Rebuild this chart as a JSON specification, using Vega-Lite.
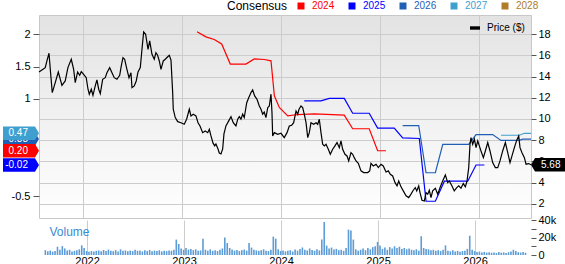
{
"$schema":"https://vega.github.io/schema/vega-lite/v6.json",
"background":"white",
"padding":{"left":2,"top":0,"right":0,"bottom":-1},
"spacing":2,
"bounds":"flush",
"datasets":{
"price":[
{"t":2021.556,"price":14.44},{"t":2021.596,"price":14.69},{"t":2021.619,"price":14.85},{"t":2021.636,"price":15.48},{"t":2021.657,"price":16.21},{"t":2021.670,"price":14.69},{"t":2021.690,"price":12.49},{"t":2021.720,"price":13.43},{"t":2021.751,"price":14.44},{"t":2021.788,"price":13.18},{"t":2021.821,"price":13.59},{"t":2021.848,"price":14.85},{"t":2021.882,"price":15.64},{"t":2021.906,"price":14.69},{"t":2021.922,"price":13.43},{"t":2021.946,"price":14.44},{"t":2021.967,"price":14.13},{"t":2021.983,"price":14.47},{"t":2022.007,"price":14.22},{"t":2022.033,"price":13.90},{"t":2022.051,"price":12.81},{"t":2022.064,"price":12.34},{"t":2022.084,"price":12.81},{"t":2022.101,"price":12.24},{"t":2022.124,"price":13.12},{"t":2022.141,"price":13.69},{"t":2022.159,"price":12.81},{"t":2022.175,"price":12.39},{"t":2022.199,"price":13.75},{"t":2022.225,"price":13.90},{"t":2022.242,"price":14.37},{"t":2022.270,"price":14.85},{"t":2022.293,"price":14.37},{"t":2022.316,"price":13.90},{"t":2022.343,"price":13.75},{"t":2022.371,"price":14.13},{"t":2022.387,"price":15.01},{"t":2022.404,"price":15.79},{"t":2022.421,"price":15.64},{"t":2022.444,"price":14.69},{"t":2022.465,"price":13.90},{"t":2022.485,"price":14.37},{"t":2022.495,"price":12.96},{"t":2022.518,"price":13.12},{"t":2022.538,"price":13.59},{"t":2022.556,"price":14.44},{"t":2022.579,"price":14.85},{"t":2022.596,"price":16.58},{"t":2022.613,"price":18.22},{"t":2022.633,"price":18.00},{"t":2022.657,"price":16.58},{"t":2022.674,"price":17.37},{"t":2022.697,"price":16.11},{"t":2022.720,"price":15.64},{"t":2022.737,"price":16.26},{"t":2022.754,"price":16.02},{"t":2022.771,"price":15.48},{"t":2022.788,"price":14.69},{"t":2022.811,"price":15.48},{"t":2022.831,"price":15.64},{"t":2022.856,"price":15.88},{"t":2022.872,"price":16.02},{"t":2022.889,"price":15.57},{"t":2022.906,"price":12.49},{"t":2022.912,"price":10.92},{"t":2022.932,"price":10.13},{"t":2022.957,"price":9.75},{"t":2022.990,"price":9.65},{"t":2023.023,"price":9.50},{"t":2023.047,"price":9.98},{"t":2023.074,"price":10.92},{"t":2023.091,"price":10.29},{"t":2023.114,"price":10.45},{"t":2023.141,"price":10.29},{"t":2023.162,"price":9.65},{"t":2023.182,"price":9.34},{"t":2023.209,"price":8.71},{"t":2023.235,"price":8.87},{"t":2023.260,"price":8.71},{"t":2023.276,"price":9.03},{"t":2023.293,"price":8.40},{"t":2023.313,"price":7.74},{"t":2023.330,"price":7.46},{"t":2023.343,"price":7.64},{"t":2023.364,"price":7.17},{"t":2023.377,"price":6.79},{"t":2023.394,"price":6.70},{"t":2023.411,"price":7.17},{"t":2023.424,"price":8.59},{"t":2023.444,"price":9.34},{"t":2023.472,"price":9.82},{"t":2023.495,"price":10.22},{"t":2023.518,"price":9.65},{"t":2023.545,"price":9.34},{"t":2023.563,"price":9.98},{"t":2023.579,"price":10.22},{"t":2023.596,"price":9.98},{"t":2023.613,"price":10.45},{"t":2023.629,"price":10.13},{"t":2023.654,"price":11.54},{"t":2023.674,"price":12.01},{"t":2023.697,"price":12.49},{"t":2023.714,"price":12.74},{"t":2023.734,"price":12.18},{"t":2023.758,"price":11.86},{"t":2023.781,"price":11.23},{"t":2023.798,"price":10.92},{"t":2023.815,"price":10.45},{"t":2023.831,"price":10.66},{"t":2023.848,"price":10.13},{"t":2023.866,"price":11.07},{"t":2023.882,"price":11.23},{"t":2023.899,"price":12.34},{"t":2023.909,"price":10.60},{"t":2023.916,"price":8.40},{"t":2023.933,"price":8.71},{"t":2023.967,"price":8.56},{"t":2024.000,"price":8.65},{"t":2024.033,"price":8.24},{"t":2024.061,"price":8.71},{"t":2024.084,"price":9.34},{"t":2024.108,"price":9.41},{"t":2024.128,"price":9.65},{"t":2024.152,"price":10.76},{"t":2024.169,"price":10.45},{"t":2024.182,"price":10.92},{"t":2024.202,"price":11.23},{"t":2024.219,"price":11.07},{"t":2024.235,"price":10.45},{"t":2024.253,"price":9.65},{"t":2024.270,"price":8.24},{"t":2024.286,"price":8.71},{"t":2024.303,"price":9.65},{"t":2024.330,"price":9.50},{"t":2024.354,"price":9.65},{"t":2024.371,"price":9.50},{"t":2024.387,"price":9.98},{"t":2024.404,"price":8.71},{"t":2024.421,"price":7.61},{"t":2024.438,"price":7.46},{"t":2024.455,"price":7.61},{"t":2024.478,"price":7.14},{"t":2024.498,"price":6.67},{"t":2024.522,"price":7.14},{"t":2024.545,"price":7.46},{"t":2024.566,"price":7.77},{"t":2024.589,"price":7.29},{"t":2024.606,"price":7.93},{"t":2024.623,"price":7.14},{"t":2024.646,"price":6.67},{"t":2024.667,"price":6.51},{"t":2024.684,"price":6.04},{"t":2024.707,"price":6.82},{"t":2024.724,"price":6.67},{"t":2024.740,"price":6.35},{"t":2024.758,"price":6.04},{"t":2024.781,"price":5.82},{"t":2024.808,"price":5.10},{"t":2024.835,"price":4.94},{"t":2024.876,"price":4.94},{"t":2024.896,"price":5.10},{"t":2024.909,"price":5.82},{"t":2024.932,"price":5.57},{"t":2024.960,"price":5.73},{"t":2024.983,"price":5.41},{"t":2025.010,"price":5.73},{"t":2025.033,"price":5.57},{"t":2025.061,"price":5.00},{"t":2025.084,"price":5.10},{"t":2025.104,"price":4.78},{"t":2025.128,"price":4.62},{"t":2025.152,"price":3.99},{"t":2025.172,"price":3.68},{"t":2025.189,"price":4.15},{"t":2025.212,"price":3.59},{"t":2025.235,"price":3.21},{"t":2025.263,"price":2.74},{"t":2025.290,"price":2.58},{"t":2025.313,"price":2.90},{"t":2025.336,"price":3.27},{"t":2025.356,"price":3.52},{"t":2025.371,"price":3.21},{"t":2025.391,"price":3.68},{"t":2025.404,"price":3.05},{"t":2025.424,"price":2.33},{"t":2025.448,"price":2.26},{"t":2025.465,"price":3.05},{"t":2025.482,"price":2.90},{"t":2025.498,"price":3.27},{"t":2025.515,"price":2.58},{"t":2025.532,"price":3.21},{"t":2025.559,"price":3.46},{"t":2025.583,"price":2.90},{"t":2025.606,"price":3.52},{"t":2025.633,"price":4.15},{"t":2025.660,"price":4.72},{"t":2025.684,"price":3.99},{"t":2025.700,"price":4.15},{"t":2025.727,"price":3.68},{"t":2025.750,"price":3.21},{"t":2025.775,"price":3.52},{"t":2025.795,"price":3.68},{"t":2025.818,"price":3.46},{"t":2025.841,"price":3.90},{"t":2025.862,"price":3.59},{"t":2025.879,"price":4.15},{"t":2025.896,"price":5.41},{"t":2025.909,"price":7.61},{"t":2025.919,"price":8.24},{"t":2025.936,"price":7.61},{"t":2025.953,"price":8.09},{"t":2025.970,"price":7.29},{"t":2025.987,"price":7.93},{"t":2026.003,"price":7.46},{"t":2026.020,"price":6.98},{"t":2026.044,"price":6.35},{"t":2026.064,"price":6.98},{"t":2026.088,"price":7.77},{"t":2026.111,"price":6.98},{"t":2026.138,"price":5.88},{"t":2026.165,"price":5.41},{"t":2026.189,"price":5.41},{"t":2026.212,"price":6.04},{"t":2026.239,"price":6.98},{"t":2026.266,"price":7.77},{"t":2026.290,"price":6.82},{"t":2026.313,"price":5.88},{"t":2026.333,"price":6.51},{"t":2026.357,"price":7.29},{"t":2026.381,"price":8.00},{"t":2026.401,"price":8.40},{"t":2026.414,"price":7.29},{"t":2026.434,"price":6.82},{"t":2026.458,"price":6.35},{"t":2026.475,"price":5.73},{"t":2026.502,"price":5.79},{"t":2026.525,"price":5.68}
],
"eps":[
{"year":"2024","t":2023.152,"eps":2.04},{"year":"2024","t":2023.242,"eps":1.96},{"year":"2024","t":2023.326,"eps":1.92},{"year":"2024","t":2023.401,"eps":1.85},{"year":"2024","t":2023.488,"eps":1.54},{"year":"2024","t":2023.646,"eps":1.54},{"year":"2024","t":2023.730,"eps":1.62},{"year":"2024","t":2023.831,"eps":1.61},{"year":"2024","t":2023.899,"eps":1.59},{"year":"2024","t":2023.933,"eps":1.05},{"year":"2024","t":2023.983,"eps":0.87},{"year":"2024","t":2024.068,"eps":0.74},{"year":"2024","t":2024.169,"eps":0.76},{"year":"2024","t":2024.336,"eps":0.77},{"year":"2024","t":2024.639,"eps":0.75},{"year":"2024","t":2024.724,"eps":0.54},{"year":"2024","t":2024.891,"eps":0.54},{"year":"2024","t":2024.976,"eps":0.20},{"year":"2024","t":2025.061,"eps":0.20},
{"year":"2025","t":2024.235,"eps":0.97},{"year":"2025","t":2024.404,"eps":0.97},{"year":"2025","t":2024.488,"eps":1.01},{"year":"2025","t":2024.639,"eps":1.01},{"year":"2025","t":2024.724,"eps":0.78},{"year":"2025","t":2024.891,"eps":0.78},{"year":"2025","t":2024.976,"eps":0.55},{"year":"2025","t":2025.144,"eps":0.55},{"year":"2025","t":2025.229,"eps":0.40},{"year":"2025","t":2025.397,"eps":0.39},{"year":"2025","t":2025.465,"eps":-0.58},{"year":"2025","t":2025.559,"eps":-0.58},{"year":"2025","t":2025.650,"eps":-0.27},{"year":"2025","t":2025.886,"eps":-0.27},{"year":"2025","t":2025.970,"eps":-0.02},{"year":"2025","t":2026.054,"eps":-0.02},
{"year":"2026","t":2025.229,"eps":0.59},{"year":"2026","t":2025.391,"eps":0.59},{"year":"2026","t":2025.465,"eps":-0.14},{"year":"2026","t":2025.559,"eps":-0.14},{"year":"2026","t":2025.634,"eps":0.30},{"year":"2026","t":2025.896,"eps":0.30},{"year":"2026","t":2025.970,"eps":0.45},{"year":"2026","t":2026.138,"eps":0.45},{"year":"2026","t":2026.222,"eps":0.36},{"year":"2026","t":2026.407,"eps":0.36},{"year":"2026","t":2026.441,"eps":0.38},{"year":"2026","t":2026.525,"eps":0.38},
{"year":"2027","t":2026.222,"eps":0.44},{"year":"2027","t":2026.407,"eps":0.44},{"year":"2027","t":2026.458,"eps":0.47},{"year":"2027","t":2026.525,"eps":0.47}
],
"tags":[
{"year":"2026","eps":0.38,"label":"0.38"},{"year":"2027","eps":0.47,"label":"0.47"},{"year":"2024","eps":0.20,"label":"0.20"},{"year":"2025","eps":-0.02,"label":"-0.02"}
],
"last":[{"price":5.68,"label":"5.68"}],
"vol":[
{"t":2021.570,"v":5500},{"t":2021.595,"v":4200},{"t":2021.620,"v":5000},{"t":2021.645,"v":3800},{"t":2021.670,"v":4500},{"t":2021.695,"v":9500},{"t":2021.720,"v":6000},{"t":2021.745,"v":10200},{"t":2021.770,"v":7500},{"t":2021.795,"v":5200},{"t":2021.820,"v":6000},{"t":2021.845,"v":4000},{"t":2021.870,"v":4800},{"t":2021.895,"v":5500},{"t":2021.920,"v":6500},{"t":2021.945,"v":11000},{"t":2021.970,"v":8000},{"t":2021.995,"v":4500},
{"t":2022.020,"v":3800},{"t":2022.045,"v":4600},{"t":2022.070,"v":4000},{"t":2022.095,"v":4800},{"t":2022.120,"v":5200},{"t":2022.145,"v":4200},{"t":2022.170,"v":5800},{"t":2022.195,"v":4500},{"t":2022.220,"v":6200},{"t":2022.245,"v":5000},{"t":2022.270,"v":4400},{"t":2022.295,"v":5500},{"t":2022.320,"v":4000},{"t":2022.345,"v":6500},{"t":2022.370,"v":4800},{"t":2022.395,"v":5200},{"t":2022.420,"v":4200},{"t":2022.445,"v":5000},{"t":2022.470,"v":4500},{"t":2022.495,"v":6000},{"t":2022.520,"v":4800},{"t":2022.545,"v":5200},{"t":2022.570,"v":4000},{"t":2022.595,"v":5500},{"t":2022.620,"v":4500},{"t":2022.645,"v":5800},{"t":2022.670,"v":4200},{"t":2022.695,"v":5000},{"t":2022.720,"v":4600},{"t":2022.745,"v":5400},{"t":2022.770,"v":4000},{"t":2022.795,"v":5000},{"t":2022.820,"v":4400},{"t":2022.845,"v":5200},{"t":2022.870,"v":4800},{"t":2022.895,"v":6000},{"t":2022.920,"v":17600},{"t":2022.945,"v":12600},{"t":2022.970,"v":7500},{"t":2022.995,"v":6000},
{"t":2023.020,"v":8000},{"t":2023.045,"v":6200},{"t":2023.070,"v":7000},{"t":2023.095,"v":5500},{"t":2023.120,"v":6500},{"t":2023.145,"v":4800},{"t":2023.170,"v":5200},{"t":2023.195,"v":18700},{"t":2023.220,"v":6000},{"t":2023.245,"v":5000},{"t":2023.270,"v":6500},{"t":2023.295,"v":4800},{"t":2023.320,"v":5500},{"t":2023.345,"v":4500},{"t":2023.370,"v":6000},{"t":2023.395,"v":7500},{"t":2023.420,"v":20000},{"t":2023.445,"v":13700},{"t":2023.470,"v":8000},{"t":2023.495,"v":6200},{"t":2023.520,"v":5000},{"t":2023.545,"v":5800},{"t":2023.570,"v":4600},{"t":2023.595,"v":5500},{"t":2023.620,"v":6200},{"t":2023.645,"v":5000},{"t":2023.670,"v":13700},{"t":2023.695,"v":8500},{"t":2023.720,"v":6000},{"t":2023.745,"v":5200},{"t":2023.770,"v":4800},{"t":2023.795,"v":5500},{"t":2023.820,"v":6500},{"t":2023.845,"v":5000},{"t":2023.870,"v":4600},{"t":2023.895,"v":6000},{"t":2023.920,"v":21000},{"t":2023.945,"v":18700},{"t":2023.970,"v":6500},{"t":2023.995,"v":4500},
{"t":2024.020,"v":5200},{"t":2024.045,"v":4200},{"t":2024.070,"v":4800},{"t":2024.095,"v":5500},{"t":2024.120,"v":4000},{"t":2024.145,"v":6200},{"t":2024.170,"v":5000},{"t":2024.195,"v":7000},{"t":2024.220,"v":8600},{"t":2024.245,"v":6000},{"t":2024.270,"v":5200},{"t":2024.295,"v":7500},{"t":2024.320,"v":5800},{"t":2024.345,"v":4800},{"t":2024.370,"v":6500},{"t":2024.395,"v":5200},{"t":2024.420,"v":17600},{"t":2024.445,"v":37700},{"t":2024.470,"v":10700},{"t":2024.495,"v":7500},{"t":2024.520,"v":8500},{"t":2024.545,"v":6200},{"t":2024.570,"v":7000},{"t":2024.595,"v":5500},{"t":2024.620,"v":6000},{"t":2024.645,"v":4800},{"t":2024.670,"v":8000},{"t":2024.695,"v":29000},{"t":2024.720,"v":28000},{"t":2024.745,"v":17600},{"t":2024.770,"v":6500},{"t":2024.795,"v":5000},{"t":2024.820,"v":6000},{"t":2024.845,"v":7500},{"t":2024.870,"v":5500},{"t":2024.895,"v":8000},{"t":2024.920,"v":6500},{"t":2024.945,"v":9000},{"t":2024.970,"v":10000},{"t":2024.995,"v":14900},
{"t":2025.020,"v":11000},{"t":2025.045,"v":7000},{"t":2025.070,"v":8500},{"t":2025.095,"v":6000},{"t":2025.120,"v":9000},{"t":2025.145,"v":7500},{"t":2025.170,"v":10000},{"t":2025.195,"v":8000},{"t":2025.220,"v":9500},{"t":2025.245,"v":7000},{"t":2025.270,"v":8000},{"t":2025.295,"v":6500},{"t":2025.320,"v":7500},{"t":2025.345,"v":6000},{"t":2025.370,"v":5500},{"t":2025.395,"v":6500},{"t":2025.420,"v":5000},{"t":2025.445,"v":21400},{"t":2025.470,"v":8000},{"t":2025.495,"v":7000},{"t":2025.520,"v":6500},{"t":2025.545,"v":5500},{"t":2025.570,"v":6000},{"t":2025.595,"v":4800},{"t":2025.620,"v":5500},{"t":2025.645,"v":4500},{"t":2025.670,"v":6000},{"t":2025.695,"v":11000},{"t":2025.720,"v":5000},{"t":2025.745,"v":4200},{"t":2025.770,"v":5500},{"t":2025.795,"v":4000},{"t":2025.820,"v":4800},{"t":2025.845,"v":3800},{"t":2025.870,"v":4500},{"t":2025.895,"v":5000},{"t":2025.920,"v":7000},{"t":2025.945,"v":22000},{"t":2025.970,"v":6000},{"t":2025.995,"v":4500},
{"t":2026.020,"v":3500},{"t":2026.045,"v":4000},{"t":2026.070,"v":3000},{"t":2026.095,"v":3600},{"t":2026.120,"v":2800},{"t":2026.145,"v":3200},{"t":2026.170,"v":2500},{"t":2026.195,"v":3000},{"t":2026.220,"v":2200},{"t":2026.245,"v":3400},{"t":2026.270,"v":2600},{"t":2026.295,"v":3000},{"t":2026.320,"v":2400},{"t":2026.345,"v":3200},{"t":2026.370,"v":4000},{"t":2026.395,"v":6000},{"t":2026.420,"v":4500},{"t":2026.445,"v":3200},{"t":2026.470,"v":2800},{"t":2026.495,"v":3500},{"t":2026.520,"v":2600}
]
},
"vconcat":[
{
"width":492,"height":203,
"view":{"stroke":"#c8c8c8","fill":{"gradient":"linear","x1":0,"y1":0,"x2":0,"y2":1,"stops":[{"offset":0,"color":"#e3e3e3"},{"offset":1,"color":"#ffffff"}]}},
"layer":[
{"layer":[
{"data":{"name":"eps"},
"mark":{"type":"line","strokeWidth":1.2},
"encoding":{
"x":{"field":"t","type":"quantitative","scale":{"domain":[2021.556,2026.525],"nice":false,"zero":false},"axis":{"values":[2022,2023,2024,2025,2026],"labels":false,"ticks":false,"domain":false,"grid":true,"gridColor":"#cccccc","title":null}},
"y":{"field":"eps","type":"quantitative","scale":{"domain":[-0.839,2.298],"nice":false,"zero":false},"axis":{"orient":"left","values":[-0.5,1,1.5,2],"labelExpr":"'' + datum.value","grid":false,"tickSize":6,"labelPadding":3,"domain":false,"title":null,"labelFontSize":11}},
"color":{"field":"year","type":"nominal","scale":{"domain":["2024","2025","2026","2027"],"range":["#ff0000","#0000ff","#1f5fb4","#3fa0d0"]},"legend":null}
}},
{"data":{"name":"tags"},"transform":[{"filter":"datum.year === '2026'"}],
"mark":{"type":"point","shape":"M-1,-0.186L-0.111,-0.186L0,0L-0.111,0.186L-1,0.186Z","size":5184,"filled":true,"strokeWidth":0,"opacity":1},
"encoding":{
"x":{"datum":2021.556,"type":"quantitative","scale":{"domain":[2021.556,2026.525],"nice":false,"zero":false},"axis":{"values":[2022,2023,2024,2025,2026],"labels":false,"ticks":false,"domain":false,"grid":true,"gridColor":"#cccccc","title":null}},
"y":{"field":"eps","type":"quantitative","scale":{"domain":[-0.839,2.298],"nice":false,"zero":false},"axis":{"orient":"left","values":[-0.5,1,1.5,2],"labelExpr":"'' + datum.value","grid":false,"tickSize":6,"labelPadding":3,"domain":false,"title":null,"labelFontSize":11}},
"fill":{"field":"year","type":"nominal","scale":{"domain":["2024","2025","2026","2027","2028"],"range":["#ff0000","#0000ff","#1f5fb4","#3fa0d0","#b07c2a"]},
"legend":{"orient":"none","legendX":188,"legendY":-14,"direction":"horizontal","title":"Consensus","titleOrient":"left","titleFontSize":12,"titleFontWeight":"normal","titleColor":"#000000","titlePadding":8,"labelFontSize":10,"labelOffset":6,"columnPadding":12,"symbolType":"square","symbolSize":49,"symbolStrokeWidth":0,"symbolOpacity":1,
"labelColor":{"expr":"datum.value==='2024'?'#ff0000':datum.value==='2025'?'#0000ff':datum.value==='2026'?'#1f5fb4':datum.value==='2027'?'#3fa0d0':'#b07c2a'"}}}
}},
{"data":{"name":"tags"},"transform":[{"filter":"datum.year === '2026'"}],
"mark":{"type":"text","color":"#ffffff","fontSize":10,"align":"right","baseline":"middle","dx":-11},
"encoding":{
"x":{"datum":2021.556,"type":"quantitative","scale":{"domain":[2021.556,2026.525],"nice":false,"zero":false},"axis":{"values":[2022,2023,2024,2025,2026],"labels":false,"ticks":false,"domain":false,"grid":true,"gridColor":"#cccccc","title":null}},
"y":{"field":"eps","type":"quantitative","scale":{"domain":[-0.839,2.298],"nice":false,"zero":false},"axis":{"orient":"left","values":[-0.5,1,1.5,2],"labelExpr":"'' + datum.value","grid":false,"tickSize":6,"labelPadding":3,"domain":false,"title":null,"labelFontSize":11}},
"text":{"field":"label","type":"nominal"}
}},
{"data":{"name":"tags"},"transform":[{"filter":"datum.year !== '2026'"}],
"mark":{"type":"point","shape":"M-1,-0.186L-0.111,-0.186L0,0L-0.111,0.186L-1,0.186Z","size":5184,"filled":true,"strokeWidth":0,"opacity":1},
"encoding":{
"x":{"datum":2021.556,"type":"quantitative","scale":{"domain":[2021.556,2026.525],"nice":false,"zero":false},"axis":{"values":[2022,2023,2024,2025,2026],"labels":false,"ticks":false,"domain":false,"grid":true,"gridColor":"#cccccc","title":null}},
"y":{"field":"eps","type":"quantitative","scale":{"domain":[-0.839,2.298],"nice":false,"zero":false},"axis":{"orient":"left","values":[-0.5,1,1.5,2],"labelExpr":"'' + datum.value","grid":false,"tickSize":6,"labelPadding":3,"domain":false,"title":null,"labelFontSize":11}},
"fill":{"field":"year","type":"nominal","scale":{"domain":["2024","2025","2026","2027","2028"],"range":["#ff0000","#0000ff","#1f5fb4","#3fa0d0","#b07c2a"]},
"legend":{"orient":"none","legendX":188,"legendY":-14,"direction":"horizontal","title":"Consensus","titleOrient":"left","titleFontSize":12,"titleFontWeight":"normal","titleColor":"#000000","titlePadding":8,"labelFontSize":10,"labelOffset":6,"columnPadding":12,"symbolType":"square","symbolSize":49,"symbolStrokeWidth":0,"symbolOpacity":1,
"labelColor":{"expr":"datum.value==='2024'?'#ff0000':datum.value==='2025'?'#0000ff':datum.value==='2026'?'#1f5fb4':datum.value==='2027'?'#3fa0d0':'#b07c2a'"}}}
}},
{"data":{"name":"tags"},"transform":[{"filter":"datum.year !== '2026'"}],
"mark":{"type":"text","color":"#ffffff","fontSize":10,"align":"right","baseline":"middle","dx":-11},
"encoding":{
"x":{"datum":2021.556,"type":"quantitative","scale":{"domain":[2021.556,2026.525],"nice":false,"zero":false},"axis":{"values":[2022,2023,2024,2025,2026],"labels":false,"ticks":false,"domain":false,"grid":true,"gridColor":"#cccccc","title":null}},
"y":{"field":"eps","type":"quantitative","scale":{"domain":[-0.839,2.298],"nice":false,"zero":false},"axis":{"orient":"left","values":[-0.5,1,1.5,2],"labelExpr":"'' + datum.value","grid":false,"tickSize":6,"labelPadding":3,"domain":false,"title":null,"labelFontSize":11}},
"text":{"field":"label","type":"nominal"}
}}
]},
{"layer":[
{"data":{"name":"price"},
"mark":{"type":"line","strokeWidth":1.2},
"encoding":{
"x":{"field":"t","type":"quantitative","scale":{"domain":[2021.556,2026.525],"nice":false,"zero":false},"axis":{"values":[2022,2023,2024,2025,2026],"labels":false,"ticks":false,"domain":false,"grid":true,"gridColor":"#cccccc","title":null}},
"y":{"field":"price","type":"quantitative","scale":{"domain":[0.65,19.82],"nice":false,"zero":false},"axis":{"orient":"right","values":[2,4,6,8,10,12,14,16,18],"grid":true,"gridColor":"#cccccc","tickSize":5,"labelPadding":2,"domain":false,"title":null,"labelFontSize":11}},
"stroke":{"datum":"Price ($)","type":"nominal","scale":{"range":["#000000"]},
"legend":{"orient":"none","legendX":429,"legendY":6,"title":null,"labelFontSize":10,"labelOffset":5,"symbolType":"M-1,0H1","symbolSize":100,"symbolStrokeWidth":3.4,"symbolOpacity":1,"labelColor":"#000000"}}
}},
{"data":{"name":"last"},
"mark":{"type":"point","shape":"M0,0L0.118,-0.197L1,-0.197L1,0.197L0.118,0.197Z","size":4624,"filled":true,"strokeWidth":0,"opacity":1,"color":"#000000"},
"encoding":{
"x":{"datum":2026.525,"type":"quantitative","scale":{"domain":[2021.556,2026.525],"nice":false,"zero":false},"axis":{"values":[2022,2023,2024,2025,2026],"labels":false,"ticks":false,"domain":false,"grid":true,"gridColor":"#cccccc","title":null}},
"y":{"field":"price","type":"quantitative","scale":{"domain":[0.65,19.82],"nice":false,"zero":false},"axis":{"orient":"right","values":[2,4,6,8,10,12,14,16,18],"grid":true,"gridColor":"#cccccc","tickSize":5,"labelPadding":2,"domain":false,"title":null,"labelFontSize":11}}
}},
{"data":{"name":"last"},
"mark":{"type":"text","color":"#ffffff","fontSize":10,"align":"left","baseline":"middle","dx":10},
"encoding":{
"x":{"datum":2026.525,"type":"quantitative","scale":{"domain":[2021.556,2026.525],"nice":false,"zero":false},"axis":{"values":[2022,2023,2024,2025,2026],"labels":false,"ticks":false,"domain":false,"grid":true,"gridColor":"#cccccc","title":null}},
"y":{"field":"price","type":"quantitative","scale":{"domain":[0.65,19.82],"nice":false,"zero":false},"axis":{"orient":"right","values":[2,4,6,8,10,12,14,16,18],"grid":true,"gridColor":"#cccccc","tickSize":5,"labelPadding":2,"domain":false,"title":null,"labelFontSize":11}},
"text":{"field":"label","type":"nominal"}
}}
]}
],
"resolve":{"scale":{"y":"independent"},"axis":{"y":"independent"}}
},
{
"width":492,"height":35,
"data":{"name":"vol"},
"mark":{"type":"bar","color":"#5d9cd6","size":1.6},
"encoding":{
"x":{"field":"t","type":"quantitative","scale":{"domain":[2021.556,2026.525],"nice":false,"zero":false},"axis":{"values":[2022,2023,2024,2025,2026],"format":"d","grid":true,"gridColor":"#cccccc","ticks":false,"domain":false,"labelFontSize":11,"labelPadding":0,"title":null}},
"y":{"field":"v","type":"quantitative","scale":{"domain":[0,40000],"nice":false,"zero":true},"axis":{"orient":"right","values":[0,10000,20000,30000,40000],"labelExpr":"datum.value == 0 ? '0' : (datum.value / 1000) + 'k'","grid":false,"tickSize":5,"labelPadding":2,"domain":false,"labelFontSize":11,"title":"Volume","titleX":-482,"titleY":15,"titleAngle":0,"titleAlign":"left","titleBaseline":"alphabetic","titleColor":"#3b8bd0","titleFontSize":12,"titleFontWeight":"normal"}}
}
}
],
"resolve":{"scale":{"x":"independent","y":"independent","color":"independent","stroke":"independent","fill":"independent"},"legend":{"color":"independent","stroke":"independent","fill":"independent"}},
"config":{
"font":"Liberation Sans",
"axis":{"labelColor":"#000000","tickColor":"#555555","labelFont":"Liberation Sans","gridColor":"#cccccc"},
"legend":{"padding":0,"labelFont":"Liberation Sans","titleFont":"Liberation Sans"},
"title":{"font":"Liberation Sans"},
"text":{"font":"Liberation Sans"},
"view":{"stroke":null}
}
}
